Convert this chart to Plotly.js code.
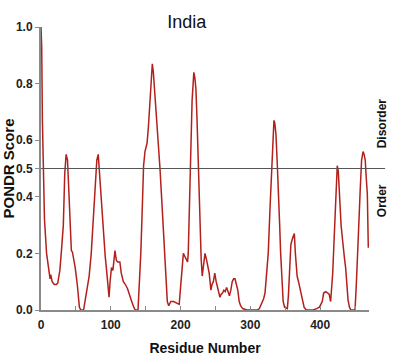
<!DOCTYPE html>
<html>
<head>
<meta charset="utf-8">
<script src="https://cdn.plot.ly/plotly-3.0.1.min.js"></script>
<style>
html, body { margin: 0; padding: 0; background: #fff; }
#chart { width: 400px; height: 360px; }
</style>
</head>
<body>
<div id="chart"></div>
<script>
const residues = [0,1,2,3,5,8,11,13,14,16,19,22,24,27,29,32,34,36,38,40,42,43.5,45,47,49,52,55,57,61,63,66,69,72,75,78,80,82,84,86,89,92,94,96,97.5,99,101,103,105,106,108,110,113,115,118,121,124,127,130,133,135,139,141,143,145,147,149,152,154,156,158,159.5,161,162.5,164,166,168,170.5,173,175,177,179,181,183,186,190,194,198,200,201.5,204,206,208.5,210,211,212,213.5,215,216.5,218,219,220.5,222,223.5,225.4,227.8,229.5,231,233,235,237,239,241,243.5,245,247,249,251,252.6,254.5,256.4,258,260,262,264,266,268,270,272,274,276,278,280,282,284,286,289,295,300,305,310,313,316,319,321,323,325.6,328,330.4,332,333.8,335,336.7,338.5,340,342,343.4,345,347,349,353,354.5,355.7,357,358,360,362,363,364.5,366,367,369,371,373,375,377,380,385,390,395,399,401,403,405,408,411,413,415,416.5,418,419.5,421,423,424.5,426,428,430,432,433,435,436.5,438,440,442,444,448,450,452,454,455.6,457.5,459.4,461.5,463,464.6,466,467.6,469];
const scores = [1.00,0.93,0.67,0.50,0.32,0.20,0.14,0.11,0.125,0.10,0.09,0.09,0.095,0.14,0.20,0.30,0.48,0.55,0.53,0.43,0.30,0.21,0.205,0.18,0.15,0.09,0.01,0.0,0.0,0.03,0.07,0.12,0.20,0.32,0.48,0.53,0.55,0.48,0.38,0.29,0.19,0.14,0.07,0.045,0.10,0.15,0.14,0.18,0.21,0.175,0.17,0.17,0.13,0.10,0.09,0.075,0.05,0.03,0.01,0.0,0.0,0.08,0.20,0.35,0.51,0.56,0.59,0.65,0.73,0.80,0.87,0.84,0.79,0.74,0.67,0.59,0.50,0.39,0.29,0.18,0.08,0.03,0.015,0.03,0.03,0.025,0.02,0.08,0.14,0.20,0.19,0.18,0.17,0.20,0.30,0.50,0.65,0.74,0.80,0.84,0.82,0.78,0.68,0.51,0.29,0.18,0.12,0.17,0.20,0.18,0.16,0.13,0.07,0.09,0.10,0.13,0.10,0.08,0.06,0.045,0.055,0.06,0.07,0.065,0.08,0.06,0.05,0.07,0.10,0.11,0.11,0.09,0.07,0.03,0.015,0.005,0.0,0.0,0.0,0.0,0.005,0.02,0.04,0.06,0.12,0.20,0.35,0.51,0.62,0.67,0.66,0.62,0.52,0.44,0.30,0.20,0.10,0.03,0.01,0.005,0.05,0.11,0.20,0.23,0.25,0.265,0.27,0.20,0.15,0.12,0.10,0.08,0.06,0.03,0.01,0.0,0.0,0.0,0.005,0.01,0.02,0.03,0.06,0.065,0.06,0.055,0.03,0.07,0.13,0.22,0.32,0.45,0.51,0.49,0.37,0.30,0.25,0.22,0.18,0.15,0.10,0.035,0.01,0.0,0.0,0.0,0.10,0.20,0.32,0.43,0.53,0.56,0.55,0.53,0.47,0.41,0.22];
const yTickVals = [0.0,0.2,0.4,0.5,0.6,0.8,1.0];
const yTickText = ["0.0","0.2","0.4","0.5","0.6","0.8","1.0"];
const threshold = 0.5;
const chartTitle = "India";
const xTitle = "Residue Number";
const yTitle = "PONDR Score";
const upperLabel = "Disorder";
const lowerLabel = "Order";

const font = "Liberation Sans, Arial, sans-serif";

const trace = {
  x: residues, y: scores, type: "scatter", mode: "lines",
  line: { color: "#b3201c", width: 1.5 },
  hoverinfo: "skip"
};

const layout = {
  width: 400, height: 360,
  margin: { l: 41, r: 31, t: 27, b: 50 },
  paper_bgcolor: "#fff", plot_bgcolor: "#fff",
  showlegend: false,
  font: { family: font, color: "#111" },
  title: { text: chartTitle, x: 0.467, xanchor: "center", y: 0.94, yanchor: "middle",
           font: { family: font, size: 18, color: "#111" } },
  xaxis: {
    range: [0, 470], showgrid: false, zeroline: false,
    showline: true, linecolor: "#8a8a8a", linewidth: 2,
    tickmode: "linear", tick0: 0, dtick: 100,
    ticks: "inside", ticklen: 4, tickcolor: "#8a8a8a", tickwidth: 1,
    ticklabelstandoff: 3,
    minor: { tickmode: "linear", tick0: 0, dtick: 50, ticks: "inside", ticklen: 4, tickcolor: "#8a8a8a" },
    tickfont: { family: font, size: 12, color: "#222", weight: "bold" },
    title: { text: "<b>" + xTitle + "</b>", font: { family: font, size: 14, color: "#111" }, standoff: 12 }
  },
  yaxis: {
    range: [0, 1], showgrid: false, zeroline: false,
    showline: true, linecolor: "#8a8a8a", linewidth: 2,
    tickmode: "array", tickvals: yTickVals, ticktext: yTickText,
    ticks: "outside", ticklen: 4, tickcolor: "#8a8a8a", tickwidth: 1,
    tickfont: { family: font, size: 12, color: "#222", weight: "bold" },
    title: { text: "<b>" + yTitle + "</b>", font: { family: font, size: 15, color: "#111" }, standoff: 4 }
  },
  shapes: [{
    type: "line", xref: "paper", yref: "y",
    x0: 0, x1: 1.049, y0: threshold, y1: threshold,
    line: { color: "#555", width: 1.2 }
  }],
  annotations: [
    { text: "<b>" + upperLabel + "</b>", xref: "paper", yref: "paper", x: 1.04, y: 0.66,
      textangle: -90, showarrow: false, xanchor: "center", yanchor: "middle",
      font: { family: font, size: 12, color: "#111" } },
    { text: "<b>" + lowerLabel + "</b>", xref: "paper", yref: "paper", x: 1.04, y: 0.385,
      textangle: -90, showarrow: false, xanchor: "center", yanchor: "middle",
      font: { family: font, size: 12, color: "#111" } }
  ]
};

Plotly.newPlot("chart", [trace], layout, { displayModeBar: false, staticPlot: true });
</script>
</body>
</html>
